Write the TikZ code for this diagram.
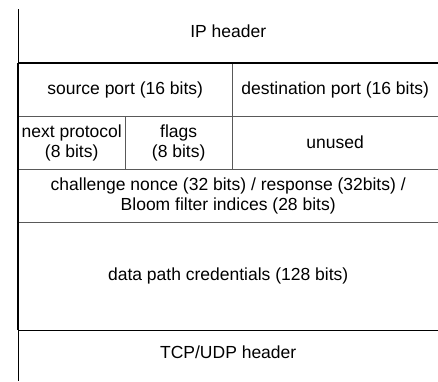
\documentclass[tikz,border=0pt]{standalone}
\usepackage{fontspec}
\setmainfont{Liberation Sans}
\usepackage{tikz}

\tikzset{
  field/.style={anchor=north west,inner sep=0pt,align=center,
    font=\fontsize{17.5}{20}\selectfont},
  inner line/.style={draw=black!65,line width=1.2pt},
  outer line/.style={draw=black,line width=1.8pt},
  thin line/.style={draw=black,line width=1pt}
}

\begin{document}
\begin{tikzpicture}[x=1pt,y=-1pt]
\useasboundingbox (0,0) rectangle (438,381);

  \node (iph) at (18,0) [field,minimum width=420pt,minimum height=63pt] {IP header};
  \node (src) at (18,63) [field,minimum width=214pt,minimum height=53pt] {source port (16 bits)};
  \node (dst) at (232,63) [field,minimum width=206pt,minimum height=53pt] {destination port (16 bits)};
  \node (nxt) at (18,116) [field,minimum width=107pt,minimum height=53pt] {next protocol\\(8 bits)};
  \node (flg) at (125,116) [field,minimum width=107pt,minimum height=53pt] {flags\\(8 bits)};
  \node (unu) at (232,116) [field,minimum width=206pt,minimum height=53pt] {unused};
  \node (chl) at (18,169) [field,minimum width=420pt,minimum height=53pt] {challenge nonce (32 bits) / response (32bits) /\\Bloom filter indices (28 bits)};
  \node (dpc) at (18,222) [field,minimum width=420pt,minimum height=108pt] {data path credentials (128 bits)};
  \node (tcp) at (18,330) [field,minimum width=420pt,minimum height=45pt] {TCP/UDP header};

  \coordinate (top) at (18,9);
  \coordinate (bot) at (18,381);

%\draw inner grid
\draw[inner line]
   (src.south west) to (dst.south east)
   (nxt.south west) to (unu.south east)
   (chl.south west) to (chl.south east)
   (src.north east) to (flg.south east)
   (nxt.north east) to (nxt.south east);

\draw[thin line]
   (top) to (src.north west)
   (dpc.south west) to (bot);

\draw[outer line]
   (src.north west) to (dst.north east)
   (dpc.south west) to (dpc.south east)
   (src.north west) to (dpc.south west);
\end{tikzpicture}
\end{document}
